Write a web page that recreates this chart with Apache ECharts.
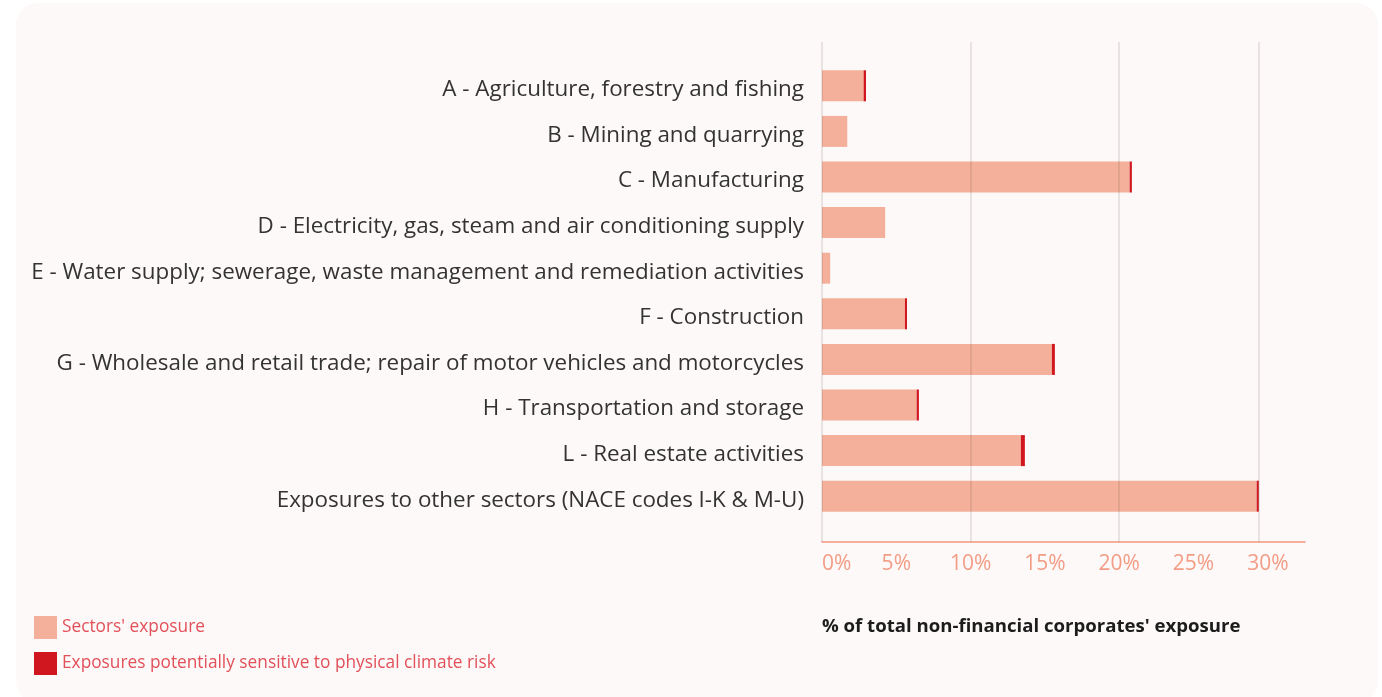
<!DOCTYPE html>
<html>
<head>
<meta charset="utf-8">
<script src="https://cdn.jsdelivr.net/npm/echarts@6/dist/echarts.min.js"></script>
<style>
  html, body { margin: 0; padding: 0; background: #ffffff; }
  #card {
    position: absolute; left: 16px; top: 3px;
    width: 1362px; height: 700px;
    background: #fdf9f8; border-radius: 22px;
  }
  #chart { position: absolute; left: 0; top: 0; width: 1382px; height: 697px; }
</style>
</head>
<body>
<div id="card"></div>
<div id="chart"></div>
<script>
// sectors, top to bottom
var categories = [
  "A - Agriculture, forestry and fishing",
  "B - Mining and quarrying",
  "C - Manufacturing",
  "D - Electricity, gas, steam and air conditioning supply",
  "E - Water supply; sewerage, waste management and remediation activities",
  "F - Construction",
  "G - Wholesale and retail trade; repair of motor vehicles and motorcycles",
  "H - Transportation and storage",
  "L - Real estate activities",
  "Exposures to other sectors (NACE codes I-K & M-U)"
];
// % of total non-financial corporates' exposure
var sectorsExposure = [2.8, 1.7, 20.7, 4.25, 0.55, 5.58, 15.47, 6.37, 13.38, 29.25];
var sensitiveExposure = [0.16, 0, 0.15, 0, 0, 0.14, 0.2, 0.15, 0.27, 0.14];
var tickValues = [0, 5, 10, 15, 20, 25, 30];
var gridLineValues = [0, 10, 20, 29.4];

var chart = echarts.init(document.getElementById("chart"));

var option = {
  animation: false,
  backgroundColor: "transparent",
  textStyle: { fontFamily: "Open Sans" },
  title: {
    text: "% of total non-financial corporates' exposure",
    left: 817,
    top: 612,
    textStyle: { fontSize: 18.6, fontWeight: "bold", color: "#1c1c1c", fontFamily: "Open Sans" }
  },
  legend: {
    orient: "vertical",
    left: 29,
    top: 611,
    itemWidth: 23,
    itemHeight: 23,
    itemGap: 13,
    icon: "rect",
    selectedMode: false,
    textStyle: { color: "#e2505a", fontSize: 17.3 },
    data: ["Sectors' exposure", "Exposures potentially sensitive to physical climate risk"]
  },
  grid: [
    // frame: gridlines + axis
    { left: 822, right: 77, top: 42, bottom: 155 },
    // bars
    { left: 822, right: 77, top: 63, bottom: 178 }
  ],
  xAxis: [
    {
      gridIndex: 0, type: "value", min: 0, max: 32.5, interval: 5,
      axisLine: { show: true, lineStyle: { color: "#f2957f", width: 1.5 } },
      axisTick: { show: false },
      splitLine: { show: false },
      axisLabel: {
        color: "#f39c86", fontSize: 21, margin: 12,
        showMaxLabel: false, alignMinLabel: "left",
        formatter: function (v) { return tickValues.indexOf(v) >= 0 ? v + "%" : ""; }
      }
    },
    {
      gridIndex: 1, type: "value", min: 0, max: 32.5, show: false
    }
  ],
  yAxis: [
    { gridIndex: 0, type: "value", min: 0, max: 1, show: false },
    {
      gridIndex: 1, type: "category", inverse: true, data: categories,
      axisLine: { show: false }, axisTick: { show: false },
      axisLabel: {
        margin: 18,
        formatter: function (v) { return "{c|" + v + "}"; },
        rich: { c: { color: "#333333", fontSize: 22.4, padding: [8, 0, 0, 0] } }
      }
    }
  ],
  series: [
    {
      name: "Sectors' exposure",
      type: "bar", stack: "exp", xAxisIndex: 1, yAxisIndex: 1,
      barWidth: 31,
      itemStyle: { color: "#f4b09a" },
      data: sectorsExposure
    },
    {
      name: "Exposures potentially sensitive to physical climate risk",
      type: "bar", stack: "exp", xAxisIndex: 1, yAxisIndex: 1,
      barWidth: 31,
      itemStyle: { color: "#d0161f" },
      data: sensitiveExposure
    },
    {
      type: "scatter", xAxisIndex: 0, yAxisIndex: 0,
      symbolSize: 0, silent: true, z: 5,
      data: [[0, 0]],
      markLine: {
        silent: true, symbol: ["none", "none"], label: { show: false },
        lineStyle: { color: "rgba(60,40,40,0.14)", type: "solid", width: 1.5 },
        data: gridLineValues.map(function (v) { return { xAxis: v }; })
      }
    }
  ]
};

chart.setOption(option);
</script>
</body>
</html>
